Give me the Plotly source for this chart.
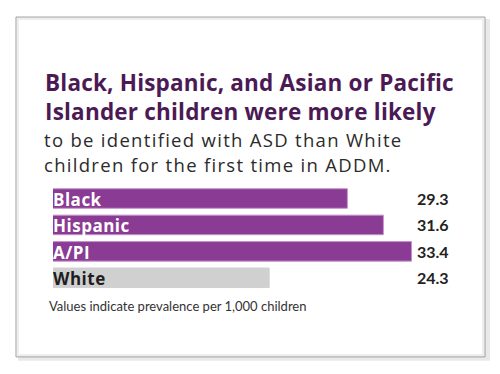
import plotly.graph_objects as go

# ---- data ----
categories = ["Black", "Hispanic", "A/PI", "White"]
values = [29.3, 31.6, 33.4, 24.3]
value_labels = ["29.3", "31.6", "33.4", "24.3"]
title_lines = ["Black, Hispanic, and Asian or Pacific", "Islander children were more likely"]
subtitle_lines = ["to be identified with ASD than White", "children for the first time in ADDM."]
footnote = "Values indicate prevalence per 1,000 children"

# ---- styling ----
W, H = 500, 374
PL, PR = 53, 460          # plot area px (left/right)
PT, PB = 183.5, 291.5     # plot area px (top/bottom)
PURPLE = "#8a3b93"
GRAY = "#d0d0d0"
TITLE_C = "#4b1a55"
TEXT_C = "#2b2b2b"

def px(x):
    return (x - PL) / (PR - PL)

def py(y):
    return (PB - y) / (PB - PT)

def spaced(t, s):
    return f"<span style='letter-spacing:{s}px'>{t}</span>"

bar_colors = [GRAY if c == "White" else PURPLE for c in categories]
line_colors = [GRAY if c == "White" else "#c592cb" for c in categories]

fig = go.Figure(go.Bar(
    x=values, y=categories, orientation="h",
    marker=dict(color=bar_colors, line=dict(color=line_colors, width=1)),
    hoverinfo="skip",
))

shapes = [
    dict(type="rect", xref="paper", yref="paper", layer="below",
         x0=px(18), x1=px(490), y0=py(17), y1=py(362),
         fillcolor="#e9e9e9", line=dict(width=0)),
    dict(type="rect", xref="paper", yref="paper", layer="below",
         x0=px(16), x1=px(485), y0=py(15), y1=py(358),
         fillcolor="white", line=dict(color="#9c9c9c", width=1)),
    dict(type="rect", xref="paper", yref="paper", layer="below",
         x0=px(18), x1=px(483), y0=py(17), y1=py(356),
         fillcolor="rgba(0,0,0,0)", line=dict(color="#eeeeee", width=2)),
]

annotations = []
for i, line in enumerate(title_lines):
    annotations.append(dict(
        text=spaced(line, 0.2), xref="paper", yref="paper", x=px(43), y=py(81 + 29 * i),
        xanchor="left", yanchor="middle", showarrow=False,
        font=dict(family="Open Sans", size=22.5, color=TITLE_C, weight="bold")))
for i, line in enumerate(subtitle_lines):
    annotations.append(dict(
        text=spaced(line, 1.3), xref="paper", yref="paper", x=px(42), y=py(139 + 25 * i),
        xanchor="left", yanchor="middle", showarrow=False,
        font=dict(family="Open Sans", size=18.5, color=TEXT_C)))
for c, v in zip(categories, value_labels):
    annotations.append(dict(
        text=spaced(c, 0.5), xref="paper", yref="y", x=0, y=c, xanchor="left", yanchor="middle",
        yshift=-1, xshift=-2, showarrow=False,
        font=dict(family="Open Sans", size=17, weight="bold",
                  color=("#1e1e1e" if c == "White" else "white"))))
    annotations.append(dict(
        text=v, xref="paper", yref="y", x=px(451), y=c, xanchor="right", yanchor="middle",
        showarrow=False,
        font=dict(family="Lato", size=16, weight="bold", color="#222222")))
annotations.append(dict(
    text=footnote, xref="paper", yref="paper", x=px(47), y=py(307),
    xanchor="left", yanchor="middle", showarrow=False,
    font=dict(family="Lato", size=13, color="#333333")))

fig.update_layout(
    width=W, height=H,
    margin=dict(l=PL, r=W - PR, t=PT, b=H - PB, pad=0),
    paper_bgcolor="white", plot_bgcolor="rgba(0,0,0,0)",
    showlegend=False, bargap=0.26,
    xaxis=dict(range=[10.48, 36.5], visible=False, fixedrange=True),
    yaxis=dict(autorange="reversed", visible=False, fixedrange=True),
    shapes=shapes, annotations=annotations,
)

fig.write_html("out.html", config={"displayModeBar": False},
               post_script="document.body.style.margin='0';document.body.style.overflow='hidden';")
